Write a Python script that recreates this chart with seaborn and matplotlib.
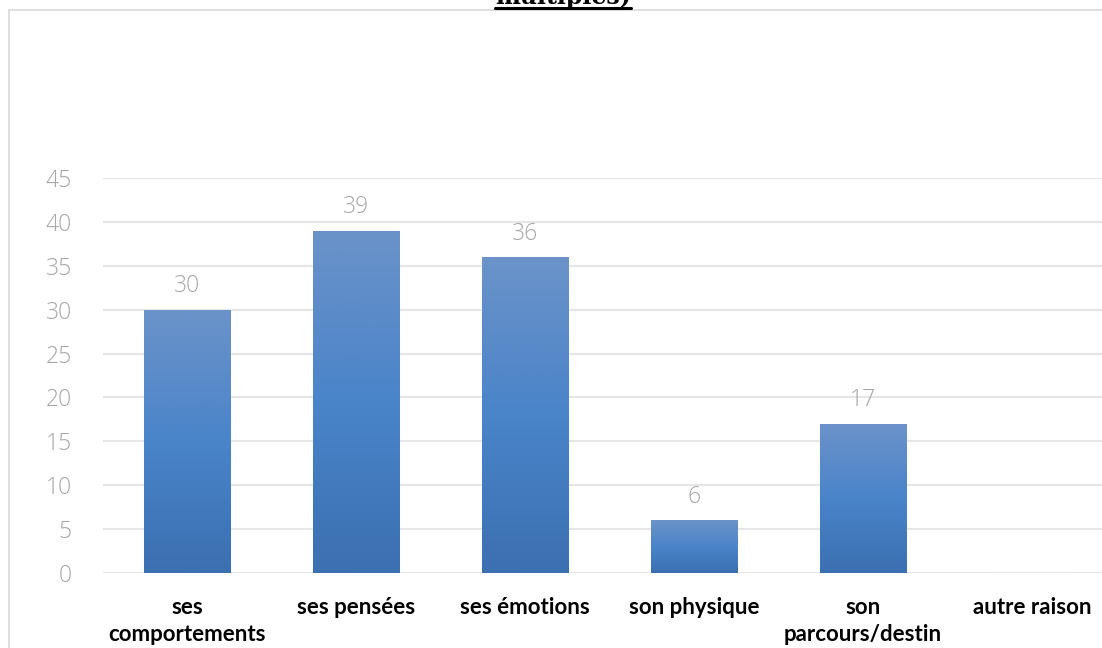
import numpy as np
import pandas as pd
import matplotlib
matplotlib.use("Agg")
import matplotlib.pyplot as plt
from matplotlib.colors import LinearSegmentedColormap
from matplotlib.patches import Rectangle
import seaborn as sns

# ─── DATA ───────────────────────────────────────────────────────
categories = ["ses\ncomportements", "ses pensées", "ses émotions",
              "son physique", "son\nparcours/destin", "autre raison"]
counts = [30, 39, 36, 6, 17, 0]
yticks = [0, 5, 10, 15, 20, 25, 30, 35, 40, 45]
title_tail = "multiples)"
# ────────────────────────────────────────────────────────────────

W, H = 1102, 648
sns.set_theme(style="white")
plt.rcParams["font.family"] = ["Open Sans", "DejaVu Sans"]

fig = plt.figure(figsize=(W / 100, H / 100), dpi=100)
ax = fig.add_axes([102.5 / W, 75 / H, 1014 / W, 395 / H])

df = pd.DataFrame({"cat": categories, "n": counts})
sns.barplot(data=df, x="cat", y="n", color="#4a82c6", width=0.51,
            saturation=1, ax=ax, zorder=3)

# vertical gradient inside each bar
grad = LinearSegmentedColormap.from_list("g", ["#3b70b1", "#4a84c9", "#6b93c9"])
for p in ax.patches:
    x0, y0 = p.get_x(), p.get_y()
    w, h = p.get_width(), p.get_height()
    if h <= 0:
        continue
    img = ax.imshow(np.linspace(0, 1, 256).reshape(-1, 1), cmap=grad,
                    origin="lower", aspect="auto",
                    extent=[x0, x0 + w, y0, y0 + h], zorder=4)
    img.set_clip_path(p)
    ax.text(x0 + w / 2, y0 + h + 1.3, f"{int(h)}", ha="center", va="bottom",
            fontsize=16.5, color="#a6a6a6", fontweight="light", zorder=5)

ax.set_xlim(-0.5, len(categories) - 0.5)
ax.set_ylim(0, 45)
ax.set_yticks(yticks)
ax.set_yticklabels([str(t) for t in yticks], fontsize=16.5, color="#a6a6a6",
                   fontweight="light")
ax.set_xticks(range(len(categories)))
ax.set_xticklabels(categories, fontsize=16, fontweight="bold", color="black",
                   family=["Lato", "DejaVu Sans"], linespacing=1.35)
ax.tick_params(axis="y", length=0, pad=22)
ax.tick_params(axis="x", length=0, pad=17)
ax.set_xlabel("")
ax.set_ylabel("")
ax.yaxis.grid(True, color="#e6e6e6", linewidth=1.5, zorder=0)
ax.set_axisbelow(True)
for s in ax.spines.values():
    s.set_visible(False)

# outer frame of the chart area (only left and top visible)
fig.patches.append(Rectangle((9 / W, -0.1), 1.2, (H - 10) / H + 0.1,
                             transform=fig.transFigure, fill=False,
                             edgecolor="#d9d9d9", linewidth=1.2))

# clipped title tail at the very top
t = fig.text(563 / W, (H - 4) / H, title_tail, ha="center", va="baseline",
             fontsize=17, fontweight="bold", family=["DejaVu Serif"],
             color="black")
fig.canvas.draw()
bb = t.get_window_extent()
fig.add_artist(plt.Line2D([bb.x0 / W, bb.x1 / W], [(H - 8) / H] * 2,
                          transform=fig.transFigure, color="black",
                          linewidth=2.2))

fig.savefig("out.png", dpi=100)
